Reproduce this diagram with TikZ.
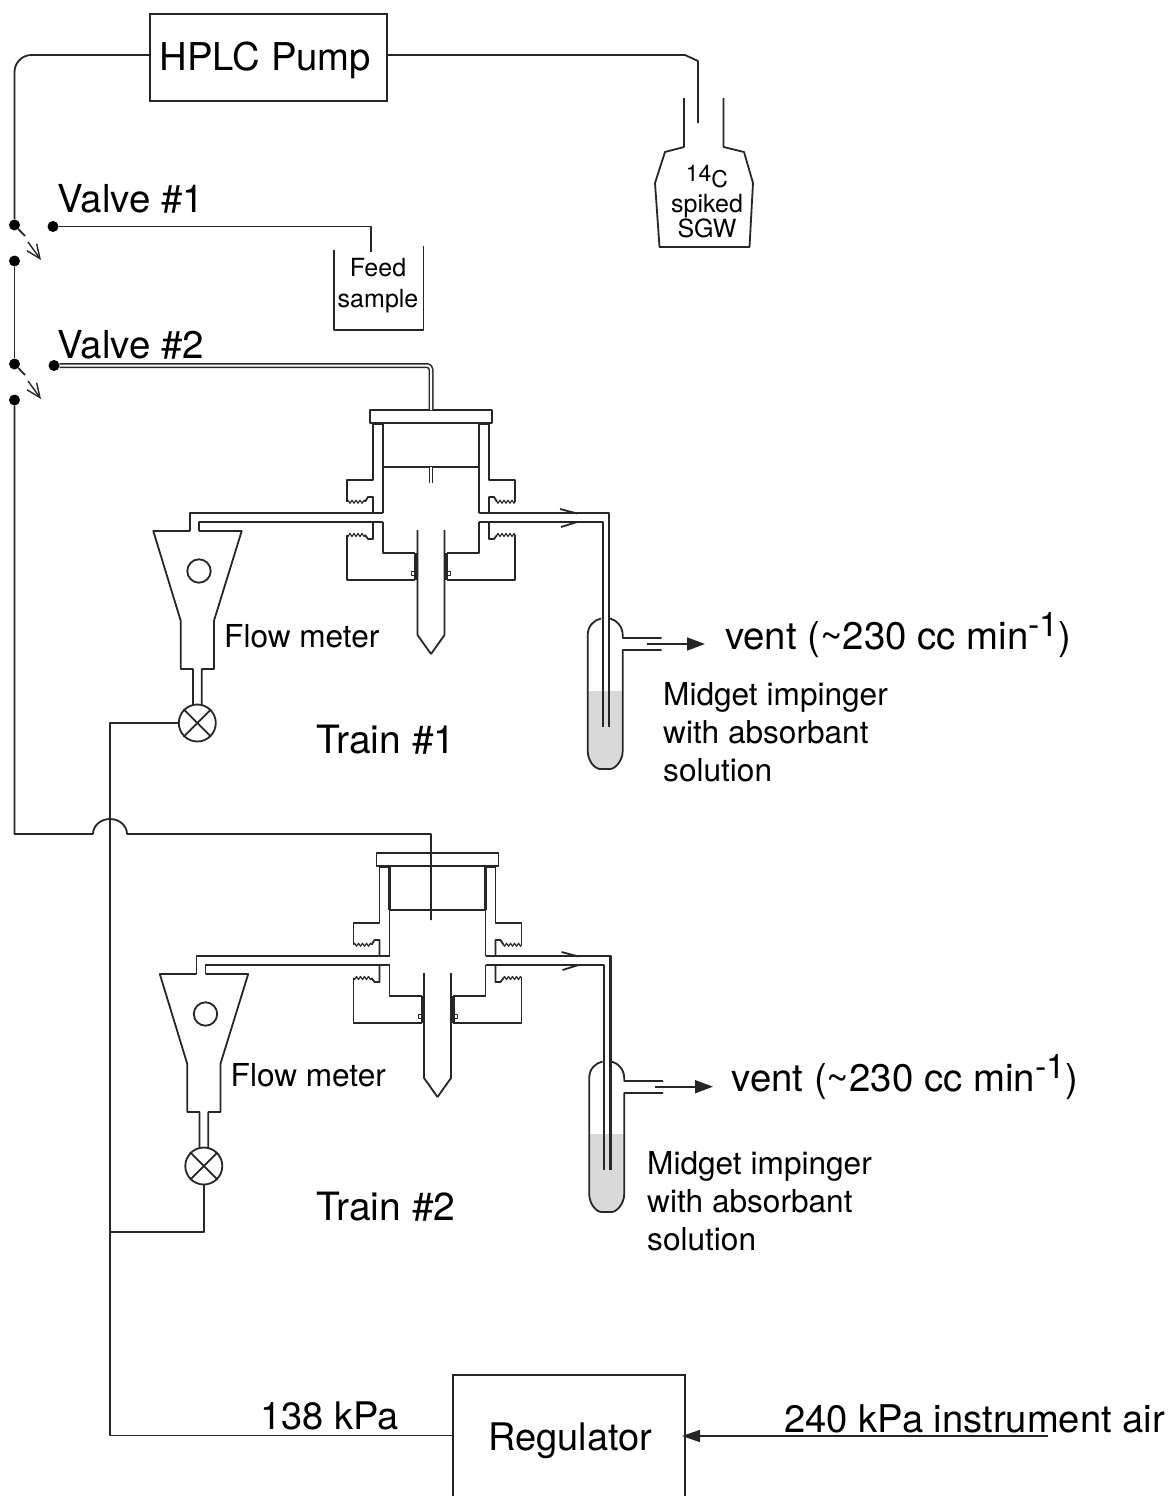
\documentclass[tikz,border=0pt]{standalone}
\usepackage{fontspec}
\setmainfont{TeX Gyre Heros}
\usetikzlibrary{arrows.meta, decorations.pathmorphing}

\begin{document}
\begin{tikzpicture}[
    x=1pt, y=-1pt,
    pipe/.style={draw=black!85, line width=1.8pt, line join=round},
    heavy/.style={pipe, line width=2.6pt},
    thread/.style={pipe, line width=1.1pt, decorate, decoration={zigzag, segment length=4pt, amplitude=1.6pt}},
    twin/.style={pipe, double=white, double distance=2pt, line width=1.5pt},
    arrow/.style={pipe, -{Triangle[length=18pt, width=13pt]}},
    barb/.style={pipe, line width=1.4pt, -{Straight Barb[length=14pt, width=12pt]}},
    joint/.style={circle, fill=black, minimum size=11pt, inner sep=0pt},
    box/.style={rectangle, draw=black!85, line width=1.8pt, align=center},
    txt/.style={inner sep=0pt, anchor=base west, font=\fontsize{38.5}{40}\selectfont},
    midtxt/.style={inner sep=0pt, anchor=west, align=left, font=\fontsize{31.6}{38}\selectfont},
    smalltxt/.style={inner sep=0pt, align=center, font=\fontsize{25}{31}\selectfont},
    fitting/.pic={
        \draw[pipe] (-61,0) rectangle (61,12.7);
        \draw[pipe] (-48,57.3) -- (48,57.3);
        \foreach \m in {1,-1} {
            \begin{scope}[xscale=\m]
                \draw[heavy] (-58,13.5) -- (-48,13.5);
                \draw[heavy] (-48,13) -- (-48,57.3);
                \draw[pipe] (-48,57.3) -- (-48,103.3);
                \draw[pipe] (-58,13) -- (-58,70) -- (-84,70) -- (-84,91.7);
                \draw[thread] (-84,91.7) -- (-66,91.7);
                \draw[pipe] (-66,91.7) -- (-63,87) -- (-58,87) -- (-58,103.3);
                \draw[pipe] (-48,112) -- (-48,142.7) -- (-15.7,142.7);
                \draw[pipe] (-58,112) -- (-58,129) -- (-63,129) -- (-66,125);
                \draw[thread] (-66,125) -- (-84,125);
                \draw[pipe] (-84,125) -- (-84,170) -- (-15.7,170);
                \draw[heavy] (-15.7,142.7) -- (-15.7,170);
                \draw[pipe, line width=1pt] (-19.5,161.7) rectangle (-15.7,165);
                \draw[pipe] (-13.5,120) -- (-13.5,225) -- (0,244);
            \end{scope}
        }
        \coordinate (-top) at (0,0);
        \coordinate (-inlet) at (-48,103.3);
        \coordinate (-inletlow) at (-48,112);
        \coordinate (-outlet) at (48,103.3);
        \coordinate (-outletlow) at (48,112);
    },
    meter/.pic={
        \draw[pipe] (-9,-40) -- (-45.7,-40) -- (-18.3,49.7) -- (-18.3,98) -- (-6,98) -- (-6,134);
        \draw[pipe] (0,-40) -- (42.7,-40) -- (15,49.7) -- (15,98) -- (2.7,98) -- (2.7,134);
        \draw[pipe] (0,0) circle[radius=11.7pt];
        \node[circle, draw=black!85, line width=1.8pt, minimum size=37pt, inner sep=0pt, fill=white] (-valve) at (-1.7,152) {};
        \draw[pipe] (-valve.north west) -- (-valve.south east);
        \draw[pipe] (-valve.north east) -- (-valve.south west);
        \coordinate (-in) at (-9,-40);
        \coordinate (-inlow) at (0,-40);
    },
    impinger/.pic={
        \fill[black!15] (-18.3,73) -- (16.7,73) -- (16.7,133) .. controls (16.7,143) and (9,151) .. (4,151) -- (-6,151) .. controls (-11,151) and (-18.3,143) .. (-18.3,133) -- cycle;
        \draw[pipe] (-5,0.5) .. controls (-12,2) and (-18.3,8) .. (-18.3,17) -- (-18.3,133) .. controls (-18.3,143) and (-11,151) .. (-6,151) -- (4,151) .. controls (9,151) and (16.7,143) .. (16.7,133) -- (16.7,32) -- (55.7,32);
        \draw[pipe] (4,0.5) .. controls (10,2) and (16.7,8) .. (16.7,17) -- (16.7,20) -- (55.7,20);
        \draw[pipe] (-46,-109) -- (-29,-104.5);
        \draw[pipe] (-45,-91) -- (-29,-96);
        \coordinate (-end) at (3,109);
        \coordinate (-endlow) at (-3.3,109);
    }
]
\useasboundingbox (0,0) rectangle (1169,1496);

\node[box, minimum width=237pt, minimum height=87pt, text height=30pt, text depth=4pt, font=\fontsize{38.3}{40}\selectfont] (pump) at (268.5,57.5) {HPLC Pump\hspace*{6pt}};
\node[box, minimum width=232pt, minimum height=126pt, text height=28pt, text depth=4pt, font=\fontsize{38}{40}\selectfont] (reg) at (569,1438) {\hspace*{3pt}Regulator};

\node[joint] (v1a) at (14.5,225) {};
\node[joint] (v1b) at (14.5,261) {};
\node[joint] (v1c) at (53,226.5) {};
\node[joint] (v2a) at (14.5,364) {};
\node[joint] (v2b) at (14.5,400) {};
\node[joint] (v2c) at (54,365.5) {};

\node[txt] (v1txt) at (57,212) {Valve \#1};
\node[txt] (v2txt) at (57,358) {Valve \#2};
\node[smalltxt] (feed) at (378,286) {Feed\\sample};
\node[smalltxt, font=\fontsize{25}{25}\selectfont] (sgw) at (707,202) {{\fontsize{23}{25}\selectfont\raisebox{6pt}{14}C}\\spiked\\SGW};

\coordinate (feedin) at (371,252);
\draw[pipe] (334,250) -- (334,330) -- (423.5,330) -- (423.5,246);
\draw[pipe] (v1c) -| (feedin);

\draw[pipe] (684,98) -- (684,147) -- (665,152) -- (655,183) -- (659.5,247) -- (749.5,247) -- (753,183) -- (744,152) -- (723.5,147) -- (723.5,98);
\coordinate (pumpbend) at (685,55);
\coordinate (pumpkink) at (698,61);
\coordinate (flaskin) at (698,123);
\draw[pipe] ([yshift=2.5pt]pump.east) -- (pumpbend) -- (pumpkink) -- (flaskin);

\draw[pipe, rounded corners=17pt] ([yshift=2.5pt]pump.west) -| (v1a);
\draw[pipe] (v1b) -- (v2a);
\draw[pipe] (v1a) -- ++(10.5,11);
\draw[barb] (28,242) -- (41,260);
\draw[pipe] (v2a) -- ++(10.5,11);
\draw[barb] (28,381) -- (41,399);

\pic (fit1) at (431,410) {fitting};
\pic (fit2) at (437.5,853) {fitting};
\pic (m1) at (199,571) {meter};
\pic (m2) at (205.5,1014) {meter};
\pic (imp1) at (606,618) {impinger};
\pic (imp2) at (607.5,1061) {impinger};

\draw[twin, rounded corners=4pt] (v2c) -| (fit1-top);
\coordinate (stub1a) at (431,467.3);
\coordinate (stub1b) at (431,483);
\draw[twin, double distance=1.4pt, line width=1pt] (stub1a) -- (stub1b);

\draw[pipe] (fit1-inlet) -| (m1-in);
\draw[pipe] (fit1-inletlow) -| (m1-inlow);
\draw[pipe] (fit2-inlet) -| (m2-in);
\draw[pipe] (fit2-inletlow) -| (m2-inlow);
\draw[pipe] (fit1-outlet) -| (imp1-end);
\draw[heavy, line width=2.2pt] (fit1-outletlow) -| (imp1-endlow);
\draw[heavy, line width=2.2pt] (fit2-outlet) -| (imp2-end);
\draw[pipe] (fit2-outletlow) -| (imp2-endlow);

\coordinate (vent1a) at (646.7,644);
\coordinate (vent1b) at (705,644);
\coordinate (vent2a) at (655,1086.7);
\coordinate (vent2b) at (713,1086.7);
\draw[arrow] (vent1a) -- (vent1b);
\draw[arrow] (vent2a) -- (vent2b);

\coordinate (humpl) at (93,834);
\coordinate (humpr) at (127,834);
\coordinate (feed2) at (431,920);
\draw[pipe] (v2b) |- (humpl) arc[start angle=180, end angle=0, x radius=17pt, y radius=15pt] -- (feed2 |- humpr) -- (feed2);

\coordinate (air1) at (110,723);
\coordinate (air2) at (110,1232);
\coordinate (air3) at (110,1435.5);
\draw[pipe] (m1-valve.west) -- (air1) -- (air3) -- (reg.west |- air3);
\draw[pipe] (m2-valve.south) |- (air2);
\coordinate (supply) at (1048,1436);
\coordinate (regin) at (682,1436);
\draw[pipe, -{Triangle[length=18pt, width=12pt]}] (supply) -- (regin);

\node[midtxt, anchor=base west] (fm1) at (224,647) {Flow meter};
\node[midtxt, anchor=base west] (fm2) at (230.5,1086) {Flow meter};
\node[txt, font=\fontsize{39}{40}\selectfont] (tr1) at (316,753) {Train \#1};
\node[txt, font=\fontsize{39}{40}\selectfont] (tr2) at (316,1220) {Train \#2};
\node[txt, font=\fontsize{38.4}{40}\selectfont] (vt1) at (725,649) {vent (\textasciitilde 230 cc min\raisebox{13pt}{\fontsize{34}{34}\selectfont -1})};
\node[txt, font=\fontsize{38.4}{40}\selectfont] (vt2) at (731.5,1091) {vent (\textasciitilde 230 cc min\raisebox{13pt}{\fontsize{34}{34}\selectfont -1})};
\node[midtxt] (mi1) at (663,732.5) {Midget impinger\\with absorbant\\solution};
\node[midtxt] (mi2) at (647,1201) {Midget impinger\\with absorbant\\solution};
\node[txt, font=\fontsize{38}{40}\selectfont] (p138) at (260,1429) {138 kPa};
\node[txt, font=\fontsize{38.2}{40}\selectfont] (p240) at (784,1432) {240 kPa instrument air};
\end{tikzpicture}
\end{document}
